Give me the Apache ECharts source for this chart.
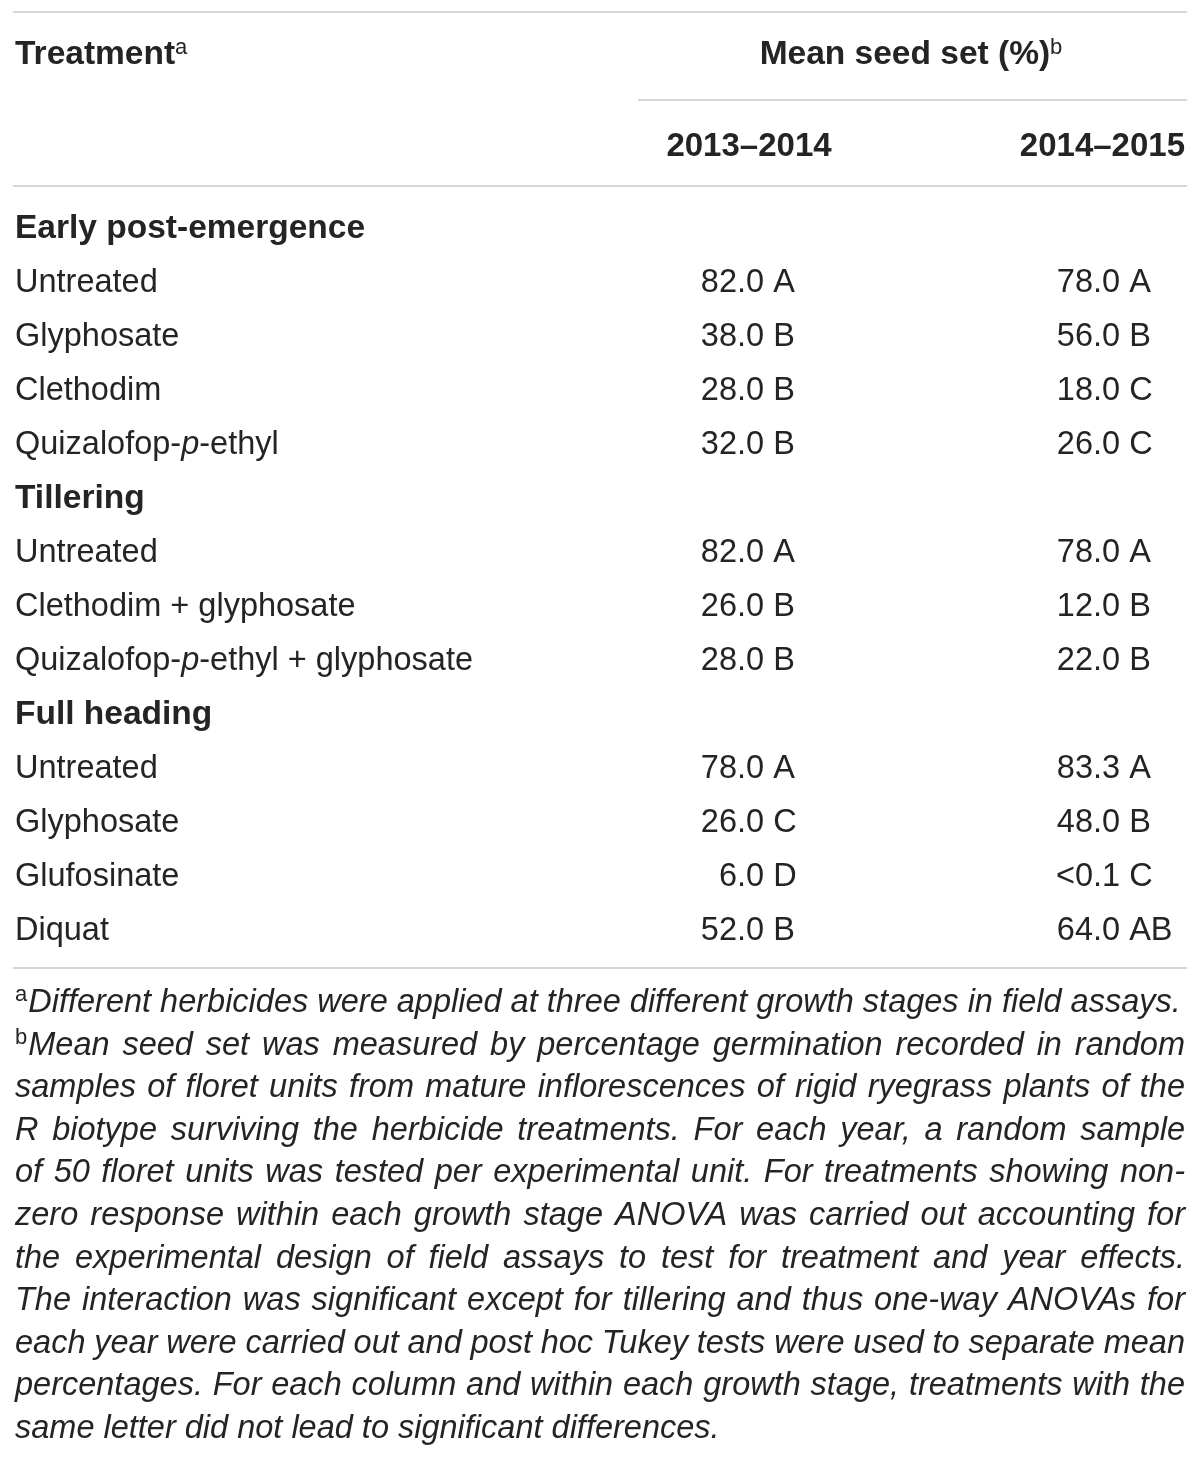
<!DOCTYPE html>
<html>
<head>
<meta charset="utf-8">
<title>Mean seed set</title>
<script src="https://cdn.jsdelivr.net/npm/echarts@6/dist/echarts.min.js"></script>
<style>
  html, body { margin: 0; padding: 0; background: #fff; }
  #chart { width: 1200px; height: 1458px; }
</style>
</head>
<body>
<div id="chart"></div>
<script>
/** 表格数据：处理 / 两个年度的平均结实率与显著性字母 */
const rowLabels = [
  'Early post-emergence', 'Untreated', 'Glyphosate', 'Clethodim', 'Quizalofop-{i|p}-ethyl',
  'Tillering', 'Untreated', 'Clethodim + glyphosate', 'Quizalofop-{i|p}-ethyl + glyphosate',
  'Full heading', 'Untreated', 'Glyphosate', 'Glufosinate', 'Diquat'
];
const rowIsGroup = [1, 0, 0, 0, 0, 1, 0, 0, 0, 1, 0, 0, 0, 0];
const seedSet1314 = ['', '82.0', '38.0', '28.0', '32.0', '', '82.0', '26.0', '28.0', '', '78.0', '26.0', '6.0', '52.0'];
const letters1314 = ['', 'A', 'B', 'B', 'B', '', 'A', 'B', 'B', '', 'A', 'C', 'D', 'B'];
const seedSet1415 = ['', '78.0', '56.0', '18.0', '26.0', '', '78.0', '12.0', '22.0', '', '83.3', '48.0', '<0.1', '64.0'];
const letters1415 = ['', 'A', 'B', 'C', 'C', '', 'A', 'B', 'B', '', 'A', 'B', 'C', 'AB'];
const yearLabels = ['2013–2014', '2014–2015'];

/** 表注 */
const footnoteMarks = ['a', 'b'];
const footnoteParagraphs = [
  ['Different herbicides were applied at three different growth stages in field assays.'],
  [
    'Mean seed set was measured by percentage germination recorded in random',
    'samples of floret units from mature inflorescences of rigid ryegrass plants of the',
    'R biotype surviving the herbicide treatments. For each year, a random sample',
    'of 50 floret units was tested per experimental unit. For treatments showing non-',
    'zero response within each growth stage ANOVA was carried out accounting for',
    'the experimental design of field assays to test for treatment and year effects.',
    'The interaction was significant except for tillering and thus one-way ANOVAs for',
    'each year were carried out and post hoc Tukey tests were used to separate mean',
    'percentages. For each column and within each growth stage, treatments with the',
    'same letter did not lead to significant differences.'
  ]
];

const FONT = '"Liberation Sans", Helvetica, Arial, sans-serif';
const INK = '#262324';
const RULE = '#c9c9c9';
const BODY_SIZE = 32.5;
const BOLD_SIZE = 33.5;
const NOTE_SIZE = 32.5;
// 列锚点（像素）：文字左边、两列小数点位置
const COL = { label: 15, dec1: 737, dec2: 1093 };

/** 按小数点拆分，便于小数点对齐 */
function splitDecimal(v) {
  const k = v.indexOf('.');
  return k < 0 ? [v, ''] : [v.substring(0, k), v.substring(k)];
}

function numberCell(x, y, value, letter) {
  const [head, tail] = splitDecimal(value);
  const base = { fontFamily: FONT, fontSize: BODY_SIZE, fill: INK, verticalAlign: 'middle' };
  return [
    { type: 'text', x: x, y: y, style: Object.assign({ text: head, align: 'right' }, base) },
    { type: 'text', x: x, y: y, style: Object.assign({ text: tail + ' ' + letter, align: 'left' }, base) }
  ];
}

function renderRow(params, api) {
  const i = api.value(1);
  const y = api.coord([0, i])[1];
  const children = [{
    type: 'text',
    x: api.coord([COL.label, i])[0],
    y: y,
    style: {
      text: rowLabels[i],
      fontFamily: FONT,
      fontSize: rowIsGroup[i] ? BOLD_SIZE : BODY_SIZE,
      fontWeight: rowIsGroup[i] ? 'bold' : 'normal',
      fill: INK,
      align: 'left',
      verticalAlign: 'middle',
      rich: { i: { fontFamily: FONT, fontSize: BODY_SIZE, fontStyle: 'italic', fill: INK } }
    }
  }];
  if (seedSet1314[i]) {
    children.push(...numberCell(api.coord([COL.dec1, i])[0], y, seedSet1314[i], letters1314[i]));
  }
  if (seedSet1415[i]) {
    children.push(...numberCell(api.coord([COL.dec2, i])[0], y, seedSet1415[i], letters1415[i]));
  }
  return { type: 'group', children: children };
}

/** 表头与横线 */
function headerGraphics() {
  const bold = { fontFamily: FONT, fontSize: BOLD_SIZE, fontWeight: 'bold', fill: INK, verticalAlign: 'middle' };
  const sup = { fontFamily: FONT, fontSize: 22, fontWeight: 'normal', fill: INK, verticalAlign: 'top', lineHeight: 36 };
  const line = (x1, x2, y) => ({
    type: 'line', shape: { x1: x1, y1: y, x2: x2, y2: y },
    style: { stroke: RULE, lineWidth: 1.5 }, silent: true
  });
  return [
    line(13, 1187, 12),
    line(638, 1187, 100),
    line(13, 1187, 186),
    line(13, 1187, 968),
    { type: 'text', x: 15, y: 55, style: Object.assign({ text: 'Treatment{s|a}', align: 'left', lineHeight: 36, rich: { s: sup } }, bold) },
    { type: 'text', x: 911, y: 55, style: Object.assign({ text: 'Mean seed set (%){s|b}', align: 'center', lineHeight: 36, rich: { s: sup } }, bold) },
    { type: 'text', x: 749, y: 147, style: Object.assign({ text: yearLabels[0], align: 'center', fontSize: 33 }, bold, { fontSize: 33 }) },
    { type: 'text', x: 1185, y: 147, style: Object.assign({ text: yearLabels[1], align: 'right' }, bold, { fontSize: 33 }) }
  ];
}

/** 表注：两端对齐，逐词排版 */
function footnoteGraphics() {
  const ctx = document.createElement('canvas').getContext('2d');
  const noteFont = 'italic ' + NOTE_SIZE + 'px ' + FONT;
  const markFont = '22px ' + FONT;
  ctx.font = noteFont;
  const spaceW = ctx.measureText(' ').width;
  const left = 15, right = 1185, top = 1003, step = 42.6;
  const out = [];
  let lineNo = 0;
  footnoteParagraphs.forEach((lines, p) => {
    lines.forEach((text, k) => {
      const y = top + lineNo * step;
      let x = left;
      if (k === 0) {
        out.push({ type: 'text', x: x, y: y - 8, style: {
          text: footnoteMarks[p], fontFamily: FONT, fontSize: 22, fill: INK, align: 'left', verticalAlign: 'middle'
        } });
        ctx.font = markFont;
        x += ctx.measureText(footnoteMarks[p]).width + 1;
        ctx.font = noteFont;
      }
      const words = text.split(' ');
      const widths = words.map(w => ctx.measureText(w).width);
      const total = widths.reduce((a, b) => a + b, 0);
      const isLast = k === lines.length - 1;
      const gap = isLast || words.length < 2 ? spaceW : (right - x - total) / (words.length - 1);
      words.forEach((w, j) => {
        out.push({ type: 'text', x: x, y: y, style: {
          text: w, fontFamily: FONT, fontSize: NOTE_SIZE, fontStyle: 'italic', fill: INK, align: 'left', verticalAlign: 'middle'
        } });
        x += widths[j] + gap;
      });
      lineNo++;
    });
  });
  return out;
}

function initTable() {
  const dom = document.getElementById('chart');
  const chart = echarts.init(dom, null, { renderer: 'canvas' });
  const option = {
    animation: false,
    backgroundColor: '#fff',
    grid: { left: 0, right: 0, top: 202, height: 756 },
    xAxis: { type: 'value', min: 0, max: 1200, show: false },
    yAxis: {
      type: 'category',
      inverse: true,
      data: rowLabels.map((_, i) => 'row' + i),
      show: false
    },
    graphic: headerGraphics().concat(footnoteGraphics()),
    series: [{
      type: 'custom',
      renderItem: renderRow,
      encode: { x: 0, y: 1 },
      data: rowLabels.map((_, i) => [0, i])
    }]
  };
  chart.setOption(option);
}

initTable();
</script>
</body>
</html>
